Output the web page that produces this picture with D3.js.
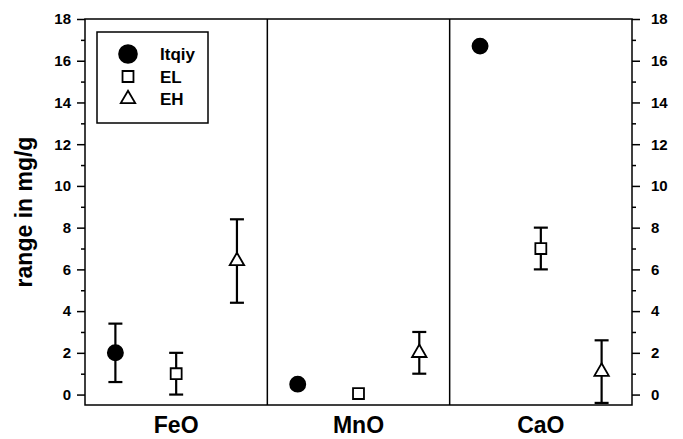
<!DOCTYPE html>
<html lang="en">
<head>
  <meta charset="UTF-8">
  <title>range in mg/g</title>
  <script src="https://d3js.org/d3.v7.min.js"></script>
  <style>
    body { margin: 0; background: #fff; }
    svg { display: block; font-family: "Liberation Sans", Arial, sans-serif; font-weight: bold; }
    .axis path { display: none; }
    .axis line { stroke: #000; stroke-width: 1.5px; }
    .axis text { font-family: "Liberation Sans", Arial, sans-serif; font-size: 15px; font-weight: bold; fill: #000; }
    .frame { fill: none; stroke: #000; stroke-width: 1.5px; }
    .err { stroke: #000; stroke-width: 2.2px; fill: none; }
  </style>
</head>
<body>
  <svg width="683" height="439"></svg>
  <script>
    const categories = ["FeO", "MnO", "CaO"];
    const series = ["Itqiy", "EL", "EH"];

    // means and error (+/-) per oxide, null = no bar
    const itqiy = [2.0, 0.5, 16.7];
    const itqiyErr = [1.4, null, null];
    const el = [1.0, 0.05, 7.0];
    const elErr = [1.0, null, 1.0];
    const eh = [6.4, 2.0, 1.1];
    const ehErr = [2.0, 1.0, 1.5];

    const majorTicks = [0, 2, 4, 6, 8, 10, 12, 14, 16, 18];
    const minorTicks = [1, 3, 5, 7, 9, 11, 13, 15, 17];

    const svg = d3.select("svg");
    const mLeft = 85, mRight = 632, mTop = 19, mBottom = 405;

    const x = d3.scaleBand().domain(categories).range([mLeft, mRight]);
    const xs = d3.scalePoint().domain(series).range([0, x.bandwidth()]).padding(0.5);
    const y = d3.scaleLinear().domain([-0.5, 18]).range([mBottom, mTop]);

    const shapes = {
      Itqiy: { type: d3.symbolCircle, size: 180, fill: "#000" },
      EL: { type: d3.symbolSquare, size: 120, fill: "#fff" },
      EH: { type: d3.symbolTriangle, size: 90, fill: "#fff" }
    };

    const points = [];
    categories.forEach((c, i) => {
      points.push({ cat: c, s: "Itqiy", v: itqiy[i], e: itqiyErr[i] });
      points.push({ cat: c, s: "EL", v: el[i], e: elErr[i] });
      points.push({ cat: c, s: "EH", v: eh[i], e: ehErr[i] });
    });
    const px = d => x(d.cat) + xs(d.s);

    // axes
    svg.append("g").attr("class", "axis")
      .attr("transform", `translate(${mLeft},0)`)
      .call(d3.axisLeft(y).tickValues(majorTicks).tickSize(8).tickPadding(6));
    svg.append("g").attr("class", "axis")
      .attr("transform", `translate(${mLeft},0)`)
      .call(d3.axisLeft(y).tickValues(minorTicks).tickSize(4).tickFormat(""));
    svg.append("g").attr("class", "axis")
      .attr("transform", `translate(${mRight},0)`)
      .call(d3.axisRight(y).tickValues(majorTicks).tickSize(8).tickPadding(11));
    svg.append("g").attr("class", "axis")
      .attr("transform", `translate(${mRight},0)`)
      .call(d3.axisRight(y).tickValues(minorTicks).tickSize(4).tickFormat(""));

    // frame and panel dividers
    svg.append("rect").attr("class", "frame")
      .attr("x", mLeft).attr("y", mTop)
      .attr("width", mRight - mLeft).attr("height", mBottom - mTop);
    svg.selectAll(".divider")
      .data(categories.slice(1))
      .enter()
      .append("line")
      .attr("class", "frame")
      .attr("x1", d => x(d)).attr("x2", d => x(d))
      .attr("y1", mTop).attr("y2", mBottom);

    // category labels
    svg.selectAll(".cat")
      .data(categories)
      .enter()
      .append("text")
      .attr("x", d => x(d) + x.bandwidth() / 2)
      .attr("y", 433)
      .attr("text-anchor", "middle")
      .attr("font-size", 23)
      .text(d => d);

    // y label
    svg.append("text")
      .attr("transform", "translate(32,212) rotate(-90)")
      .attr("text-anchor", "middle")
      .attr("font-size", 23)
      .text("range in mg/g");

    // error bars
    const withErr = points.filter(d => d.e != null);
    const eg = svg.append("g").attr("class", "err");
    eg.selectAll(".stem").data(withErr).enter().append("line")
      .attr("x1", px).attr("x2", px)
      .attr("y1", d => y(d.v - d.e)).attr("y2", d => y(d.v + d.e));
    eg.selectAll(".capt").data(withErr).enter().append("line")
      .attr("x1", d => px(d) - 7).attr("x2", d => px(d) + 7)
      .attr("y1", d => y(d.v + d.e)).attr("y2", d => y(d.v + d.e));
    eg.selectAll(".capb").data(withErr).enter().append("line")
      .attr("x1", d => px(d) - 7).attr("x2", d => px(d) + 7)
      .attr("y1", d => y(d.v - d.e)).attr("y2", d => y(d.v - d.e));

    // symbols
    svg.selectAll(".pt")
      .data(points)
      .enter()
      .append("path")
      .attr("transform", d => `translate(${px(d)},${y(d.v)})`)
      .attr("d", d => d3.symbol().type(shapes[d.s].type).size(shapes[d.s].size)())
      .attr("fill", d => shapes[d.s].fill)
      .attr("stroke", "#000")
      .attr("stroke-width", 1.8);

    // legend
    const lg = svg.append("g");
    lg.append("rect").attr("class", "frame")
      .attr("x", 97).attr("y", 32).attr("width", 111).attr("height", 91);
    const row = d3.scalePoint().domain(series).range([54, 99]);
    lg.selectAll(".ls")
      .data(series)
      .enter()
      .append("path")
      .attr("transform", d => `translate(128,${row(d)})`)
      .attr("d", d => d3.symbol().type(shapes[d].type).size(d === "Itqiy" ? 250 : shapes[d].size)())
      .attr("fill", d => shapes[d].fill)
      .attr("stroke", "#000")
      .attr("stroke-width", 1.8);
    lg.selectAll(".lt")
      .data(series)
      .enter()
      .append("text")
      .attr("x", 160)
      .attr("y", d => row(d) + 6)
      .attr("font-size", 17)
      .text(d => d);
  </script>
</body>
</html>
